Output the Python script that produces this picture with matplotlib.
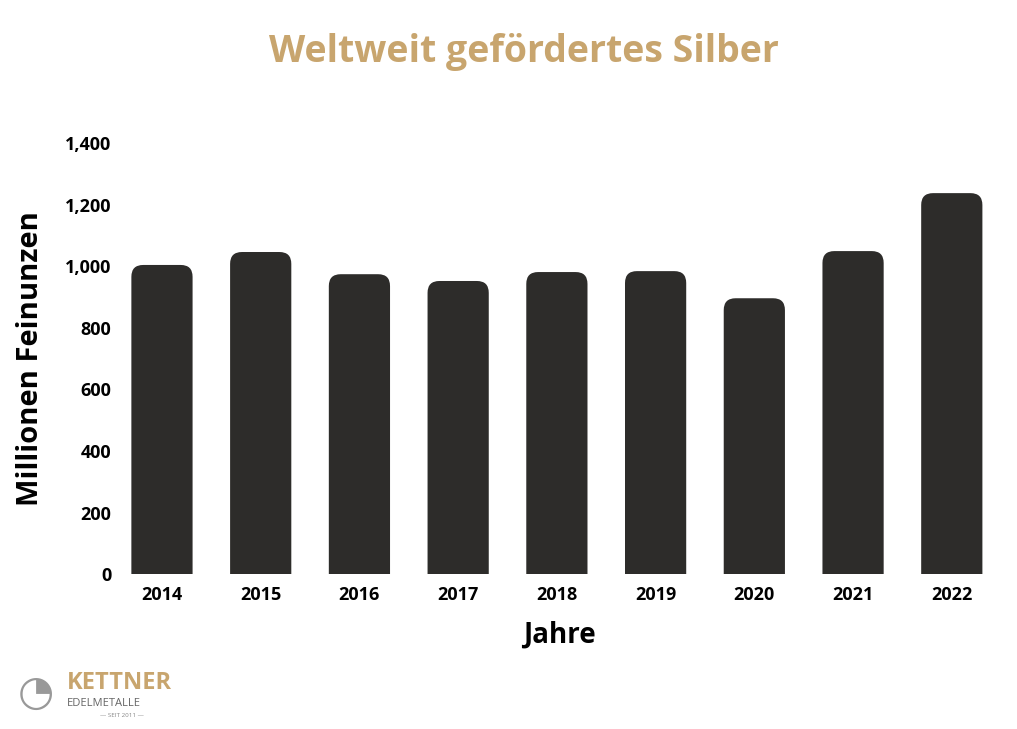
import matplotlib.pyplot as plt
from matplotlib.patches import FancyBboxPatch

years = ["2014", "2015", "2016", "2017", "2018", "2019", "2020", "2021", "2022"]
values = [1004, 1046, 974, 952, 981, 984, 896, 1049, 1237]

GOLD = "#C8A56E"
BAR = "#2D2C2A"
FONT = "Open Sans"

fig = plt.figure(figsize=(10.17, 7.29), dpi=100)
ax = fig.add_axes([0.115, 0.212, 0.87, 0.592])

bars = ax.bar(range(len(years)), values, width=0.62, color="none")
for b in bars:
    x, w, h = b.get_x(), b.get_width(), b.get_height()
    ax.add_patch(FancyBboxPatch((x, -60), w, h + 60,
                                boxstyle="round,pad=0,rounding_size=0.12",
                                mutation_aspect=320, facecolor=BAR,
                                edgecolor="none", clip_on=True))

ax.set_ylim(0, 1400)
ax.set_xlim(-0.456, 8.506)
ax.set_yticks(range(0, 1401, 200))
ax.set_yticklabels([f"{v:,}" for v in range(0, 1401, 200)])
ax.set_xticks(range(len(years)))
ax.set_xticklabels(years)
ax.tick_params(length=0, labelsize=13)
ax.tick_params(axis="y", pad=4)
ax.tick_params(axis="x", pad=8)
for lab in ax.get_xticklabels() + ax.get_yticklabels():
    lab.set_fontweight("bold")
    lab.set_fontfamily(FONT)
for s in ax.spines.values():
    s.set_visible(False)

ax.set_xlabel("Jahre", fontsize=20, fontweight="bold", family=FONT, labelpad=12)
ax.set_ylabel("Millionen Feinunzen", fontsize=21, fontweight="bold", family=FONT, labelpad=14)

fig.text(0.515, 0.928, "Weltweit gefördertes Silber", ha="center", va="center",
         fontsize=27, fontweight="bold", family=FONT, color=GOLD)

# logo
fig.text(0.066, 0.063, "KETTNER", fontsize=17, fontweight="bold", family=FONT,
         color=GOLD, va="center")
fig.text(0.066, 0.035, "EDELMETALLE", fontsize=8, family=FONT, color="#666666",
         va="center")
fig.text(0.12, 0.018, "— SEIT 2011 —", fontsize=4.5, family=FONT, color="#888888",
         ha="center", va="center")
fig.text(0.035, 0.05, "◔", fontsize=30, color="#999999", ha="center", va="center")

fig.savefig("out.png", dpi=100)
